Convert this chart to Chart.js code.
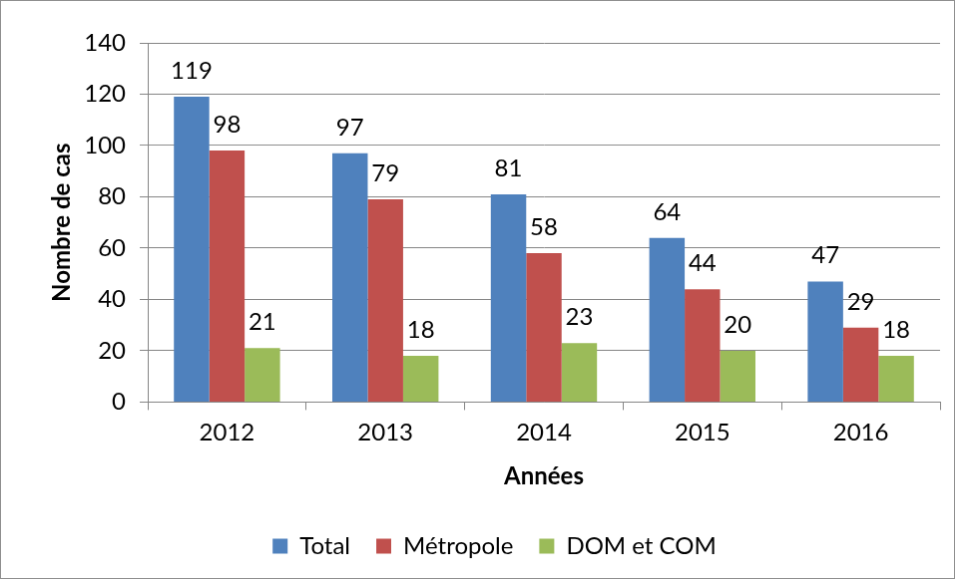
<!DOCTYPE html>
<html>
    <head>
        <title>Nombre de cas par année</title>
        <meta charset="UTF-8">
        <script src="https://cdn.jsdelivr.net/npm/chart.js@4.4.0/dist/chart.umd.min.js"></script>
        <style>
            body { margin: 0; background: #fff; }
            canvas { display: block; border: 1px solid #8f8f8f; }
        </style>
    </head>
    <body>
        <canvas id="myChart" width="955" height="579"></canvas>
        <script>
            var annees = ['2012', '2013', '2014', '2015', '2016'];
            var total = [119, 97, 81, 64, 47];
            var metropole = [98, 79, 58, 44, 29];
            var domCom = [21, 18, 23, 20, 18];
            var yTicks = [0, 20, 40, 60, 80, 100, 120, 140];

            var police = 'Lato, "Open Sans", sans-serif';
            var taille = 24;

            // etiquettes de valeur au-dessus des barres
            var etiquettes = {
                id: 'etiquettes',
                afterLayout: function (chart) {
                    // legende un peu decalee vers la droite, comme dans l'original
                    chart.legend.left += 24;
                    chart.legend.right += 24;
                },
                afterDatasetsDraw: function (chart) {
                    var ctx = chart.ctx;
                    ctx.save();
                    ctx.font = taille + 'px ' + police;
                    ctx.fillStyle = '#000';
                    ctx.textAlign = 'center';
                    ctx.textBaseline = 'alphabetic';
                    chart.data.datasets.forEach(function (ds, i) {
                        chart.getDatasetMeta(i).data.forEach(function (bar, j) {
                            ctx.fillText(String(ds.data[j]), bar.x, bar.y - 18);
                        });
                    });
                    ctx.restore();
                }
            };

            var ctx = document.getElementById('myChart').getContext('2d');
            var chart = new Chart(ctx, {
                type: 'bar',
                data: {
                    labels: annees,
                    datasets: [
                        { label: 'Total', data: total, backgroundColor: '#4F81BD' },
                        { label: 'Métropole', data: metropole, backgroundColor: '#C0504D' },
                        { label: 'DOM et COM', data: domCom, backgroundColor: '#9BBB59' }
                    ]
                },
                options: {
                    responsive: false,
                    animation: false,
                    categoryPercentage: 0.67,
                    barPercentage: 1,
                    layout: { padding: { top: 42, right: 14, bottom: 10, left: 0 } },
                    plugins: {
                        tooltip: { enabled: false },
                        legend: {
                            position: 'bottom',
                            labels: {
                                font: { family: police, size: taille },
                                color: '#000',
                                boxWidth: 15,
                                boxHeight: 15,
                                padding: 26
                            }
                        }
                    },
                    scales: {
                        x: {
                            grid: { offset: true, drawOnChartArea: false, color: '#868686', tickLength: 8 },
                            border: { color: '#868686' },
                            ticks: { font: { family: police, size: taille }, color: '#000', padding: 8 },
                            title: {
                                display: true,
                                text: 'Années',
                                font: { family: police, size: taille, weight: 'bold' },
                                color: '#000',
                                padding: { top: 8, bottom: 17 }
                            }
                        },
                        y: {
                            min: 0,
                            max: 140,
                            afterBuildTicks: function (scale) {
                                scale.ticks = yTicks.map(function (v) { return { value: v }; });
                            },
                            afterFit: function (scale) { scale.width = 147; },
                            grid: { color: '#868686', tickLength: 8 },
                            border: { color: '#868686' },
                            ticks: { font: { family: police, size: taille }, color: '#000', padding: 14 },
                            title: {
                                display: true,
                                text: 'Nombre de cas',
                                font: { family: police, size: taille, weight: 'bold' },
                                color: '#000',
                                padding: { top: 47, bottom: 0 }
                            }
                        }
                    }
                },
                plugins: [etiquettes]
            });
        </script>
    </body>
</html>
